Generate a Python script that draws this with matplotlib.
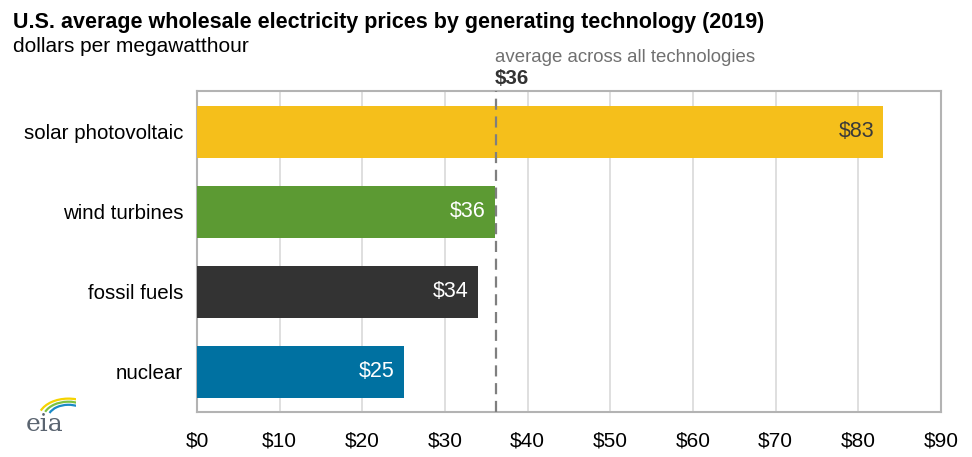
import matplotlib.pyplot as plt
import numpy as np
from matplotlib.patches import Arc

plt.rcParams['font.family'] = ['Liberation Sans', 'DejaVu Sans']

# Datos
categories = ["solar photovoltaic", "wind turbines", "fossil fuels", "nuclear"]
prices = [83, 36, 34, 25]
colors = ["#f5bf1b", "#5c9a33", "#333333", "#0071a1"]
label_colors = ["#3a3a3a", "white", "white", "white"]
average = 36
xticks = np.arange(0, 100, 10)

fig = plt.figure(figsize=(9.72, 4.57), dpi=100)
ax = fig.add_axes([0.2027, 0.0985, 0.7653, 0.7025])

ypos = np.arange(len(categories))
ax.barh(ypos, prices, height=0.65, color=colors, zorder=3)

for y, v, c in zip(ypos, prices, label_colors):
    ax.text(v - 1.1, y, f"${v}", ha='right', va='center', color=c,
            fontsize=15.5, zorder=4)

ax.set_xlim(0, 90)
ax.set_ylim(3.5, -0.51)
ax.set_xticks(xticks)
ax.set_xticklabels([f"${t}" for t in xticks], fontsize=15)
ax.set_yticks(ypos)
ax.set_yticklabels(categories, fontsize=14.8)
ax.tick_params(axis='x', length=0, pad=14)
ax.tick_params(axis='y', length=0, pad=10)
ax.grid(axis='x', color='#d9d9d9', linewidth=1.2, zorder=0)
for s in ax.spines.values():
    s.set_color('#b3b3b3')
    s.set_linewidth(1.5)

# linea de promedio
ax.plot([average + 0.2, average + 0.2], [3.5, -0.51], color='#7f7f7f',
        linestyle=(0, (5, 3)), linewidth=1.6, zorder=5)
ax.text(average, -0.93, "average across all technologies", fontsize=13.4,
        color='#707070', ha='left', va='center')
ax.text(average, -0.66, "$36", fontsize=14.8, fontweight='bold',
        color='#333333', ha='left', va='center')

# titulo
fig.text(0.0134, 0.951, "U.S. average wholesale electricity prices by generating technology (2019)",
         fontsize=15.5, fontweight='bold', ha='left', va='center')
fig.text(0.0134, 0.899, "dollars per megawatthour", fontsize=15, ha='left', va='center')

# logo eia
fig.text(0.026, 0.072, "eia", fontsize=18, color='#5a6470', family='DejaVu Serif',
         ha='left', va='center')
lax = fig.add_axes([0.028, 0.085, 0.05, 0.05])
lax.set_xlim(0, 1)
lax.set_ylim(0, 1)
lax.axis('off')
for r, col in zip([0.95, 0.8, 0.65], ['#f5d300', '#7cc142', '#1a8ac6']):
    lax.add_patch(Arc((0.85, 0.0), r * 1.3, r * 1.8, theta1=35, theta2=150,
                      color=col, linewidth=1.6))

plt.savefig("out.png", dpi=100)
plt.close()
